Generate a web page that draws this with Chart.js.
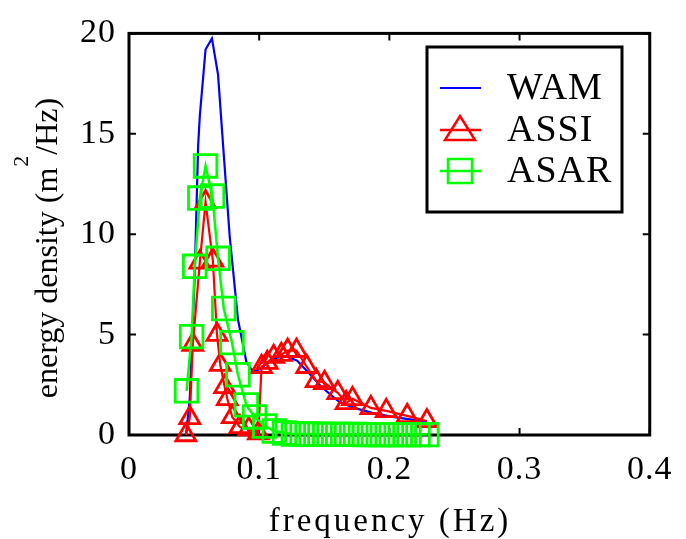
<!DOCTYPE html>
<html>
<head>
<meta charset="utf-8">
<script src="https://cdn.jsdelivr.net/npm/chart.js@4.4.1/dist/chart.umd.min.js"></script>
<style>
  html, body { margin: 0; padding: 0; background: #fff; }
  canvas { display: block; }
</style>
</head>
<body>
<canvas id="spec" width="686" height="539"></canvas>
<script>
// energy density spectra (Hz, m^2/Hz)
const wamFreq   = [0.0437, 0.0456, 0.0467, 0.0505, 0.0531, 0.0544, 0.0588, 0.0637, 0.0684, 0.0723, 0.0774, 0.0837,
                   0.0901, 0.0950, 0.1004, 0.1067, 0.1135, 0.1214, 0.1292, 0.1380, 0.1477, 0.1614, 0.1731, 0.1868, 0.2025, 0.2210, 0.2288];
const wamEnergy = [0, 1.1, 1.85, 8.0, 14.4, 15.9, 19.2, 19.75, 17.95, 14.4, 9.85, 5.76,
                   3.66, 3.17, 3.27, 3.6, 3.85, 3.9, 3.7, 3.1, 2.4, 1.65, 1.35, 1.1, 0.9, 0.73, 0.65];

const assiFreq   = [0.0437, 0.0467, 0.0490, 0.0544, 0.0588, 0.0644, 0.0676, 0.0701, 0.0735, 0.0755, 0.0793, 0.0852, 0.0920, 0.0994,
                    0.1018, 0.1062, 0.1111, 0.1170, 0.1219, 0.1287, 0.1365, 0.1438, 0.1502, 0.1604, 0.1668, 0.1717, 0.1858, 0.1976, 0.2137, 0.2288];
const assiEnergy = [0, 0.85, 4.5, 8.6, 11.6, 8.7, 5.0, 3.5, 2.4, 1.8, 0.9, 0.4, 0.3, 0.1,
                    3.4, 3.6, 3.9, 4.0, 4.2, 4.2, 3.4, 2.7, 2.6, 2.1, 1.6, 1.8, 1.35, 1.2, 0.95, 0.7];

const asarFreq   = [0.0442, 0.0481, 0.0505, 0.0544, 0.0588, 0.0641, 0.0684, 0.0728, 0.0791, 0.0837, 0.0901, 0.0965, 0.1043, 0.1116, 0.1194,
                    0.1262, 0.1330, 0.1399, 0.1467, 0.1536, 0.1604, 0.1672, 0.1741, 0.1809, 0.1878, 0.1946, 0.2015, 0.2083, 0.2151, 0.2220, 0.2288];
const asarEnergy = [2.2, 4.9, 8.4, 11.8, 13.4, 11.9, 8.8, 6.3, 4.6, 3.0, 1.5, 0.9, 0.45, 0.2, 0.1,
                    0.05, 0.05, 0.04, 0.04, 0.03, 0.03, 0.03, 0.03, 0.02, 0.02, 0.02, 0.02, 0.02, 0.02, 0.02, 0.02];

const seriesNames = ['WAM', 'ASSI', 'ASAR'];
const xTicks = [0, 0.1, 0.2, 0.3, 0.4];
const xTickLabels = ['0', '0.1', '0.2', '0.3', '0.4'];
const yTicks = [0, 5, 10, 15, 20];
const yTickLabels = ['0', '5', '10', '15', '20'];
const xTitle = 'frequency (Hz)';
const yTitle = ['energy density (m', '2', '/Hz)'];

const BLUE = '#0000ff', RED = '#ff0000', GREEN = '#00ff00';
const SERIF = '"Liberation Serif", "Times New Roman", serif';

const pts = (xs, ys) => xs.map((x, i) => ({ x, y: ys[i] }));

// box + inward ticks, under the data like matlab does
const frame = {
  id: 'frame',
  beforeDraw(chart) { chart.ctx.letterSpacing = '1px'; },
  beforeDatasetsDraw(chart) {
    const { ctx, chartArea: a, scales: { x, y } } = chart;
    ctx.save();
    ctx.strokeStyle = '#000';
    ctx.lineWidth = 3;
    ctx.strokeRect(a.left, a.top, a.right - a.left, a.bottom - a.top);
    ctx.lineWidth = 2;
    const t = 7;
    ctx.beginPath();
    xTicks.forEach(v => {
      const px = x.getPixelForValue(v);
      ctx.moveTo(px, a.bottom); ctx.lineTo(px, a.bottom - t);
      ctx.moveTo(px, a.top); ctx.lineTo(px, a.top + t);
    });
    yTicks.forEach(v => {
      const py = y.getPixelForValue(v);
      ctx.moveTo(a.left, py); ctx.lineTo(a.left + t, py);
      ctx.moveTo(a.right, py); ctx.lineTo(a.right - t, py);
    });
    ctx.stroke();
    ctx.restore();
  }
};

// axis titles and the boxed legend
const annotate = {
  id: 'annotate',
  afterDraw(chart) {
    const ctx = chart.ctx;
    ctx.save();
    ctx.fillStyle = '#000';
    ctx.textBaseline = 'alphabetic';

    ctx.font = '33px ' + SERIF;
    ctx.letterSpacing = '3px';
    ctx.textAlign = 'center';
    ctx.fillText(xTitle, 390, 531);

    // rotated y title with a raised 2
    ctx.textAlign = 'left';
    ctx.letterSpacing = '0px';
    ctx.font = '32px ' + SERIF;
    const w1 = ctx.measureText(yTitle[0]).width;
    const w3 = ctx.measureText(yTitle[2]).width;
    ctx.font = '22px ' + SERIF;
    const w2 = ctx.measureText(yTitle[1]).width;
    const start = -(w1 + w2 + w3) / 2;
    ctx.translate(57, 249);
    ctx.rotate(-Math.PI / 2);
    ctx.font = '32px ' + SERIF;
    ctx.fillText(yTitle[0], start, 0);
    ctx.font = '22px ' + SERIF;
    ctx.fillText(yTitle[1], start + w1 + 1, -29);
    ctx.font = '32px ' + SERIF;
    ctx.fillText(yTitle[2], start + w1 + w2 + 2, 0);
    ctx.restore();

    // legend
    ctx.save();
    ctx.fillStyle = '#fff';
    ctx.fillRect(427, 47, 195, 165);
    ctx.strokeStyle = '#000';
    ctx.lineWidth = 3;
    ctx.strokeRect(427, 47, 195, 165);
    const rows = [88, 130, 171];
    const cols = [BLUE, RED, GREEN];
    ctx.font = '38px ' + SERIF;
    ctx.letterSpacing = '1px';
    ctx.textAlign = 'left';
    ctx.fillStyle = '#000';
    rows.forEach((ry, i) => {
      ctx.strokeStyle = cols[i];
      ctx.lineWidth = i === 0 ? 2 : 2.5;
      ctx.beginPath(); ctx.moveTo(440, ry); ctx.lineTo(481, ry); ctx.stroke();
      if (i === 1) {
        ctx.beginPath();
        ctx.moveTo(460, ry - 14); ctx.lineTo(475, ry + 10); ctx.lineTo(445, ry + 10); ctx.closePath();
        ctx.stroke();
      } else if (i === 2) {
        ctx.strokeRect(448, ry - 12, 24, 24);
      }
      ctx.fillText(seriesNames[i], 507, ry + 11);
    });
    ctx.restore();
  }
};

const tickFont = { family: SERIF, size: 34 };

new Chart(document.getElementById('spec').getContext('2d'), {
  type: 'line',
  data: {
    datasets: [
      { label: seriesNames[2], data: pts(asarFreq, asarEnergy), borderColor: GREEN, borderWidth: 2.5,
        pointStyle: 'rect', pointRadius: 16, pointBorderWidth: 2.8, pointBorderColor: GREEN,
        pointBackgroundColor: 'rgba(0,0,0,0)', tension: 0, clip: false },
      { label: seriesNames[1], data: pts(assiFreq, assiEnergy), borderColor: RED, borderWidth: 2.2,
        pointStyle: 'triangle', pointRadius: 11.5, pointBorderWidth: 2.8, pointBorderColor: RED,
        pointBackgroundColor: 'rgba(0,0,0,0)', tension: 0, clip: false },
      { label: seriesNames[0], data: pts(wamFreq, wamEnergy), borderColor: BLUE, borderWidth: 2.2,
        pointRadius: 0, tension: 0, clip: false }
    ]
  },
  options: {
    responsive: false,
    animation: false,
    devicePixelRatio: 1,
    events: [],
    layout: { padding: { left: 0, right: 35, top: 25, bottom: 0 } },
    plugins: { legend: { display: false }, tooltip: { enabled: false } },
    scales: {
      x: {
        type: 'linear', min: 0, max: 0.4,
        grid: { display: false, drawTicks: false },
        border: { display: false },
        afterBuildTicks: s => { s.ticks = xTicks.map(v => ({ value: v })); },
        ticks: { font: tickFont, color: '#000', padding: 15, maxRotation: 0,
                 callback: (v, i) => xTickLabels[i] },
        afterFit: s => { s.height = 104; }
      },
      y: {
        min: 0, max: 20,
        grid: { display: false, drawTicks: false },
        border: { display: false },
        afterBuildTicks: s => { s.ticks = yTicks.map(v => ({ value: v })); },
        ticks: { font: tickFont, color: '#000', padding: 13,
                 callback: (v, i) => yTickLabels[i] },
        afterFit: s => { s.width = 129; }
      }
    }
  },
  plugins: [frame, annotate]
});
</script>
</body>
</html>
